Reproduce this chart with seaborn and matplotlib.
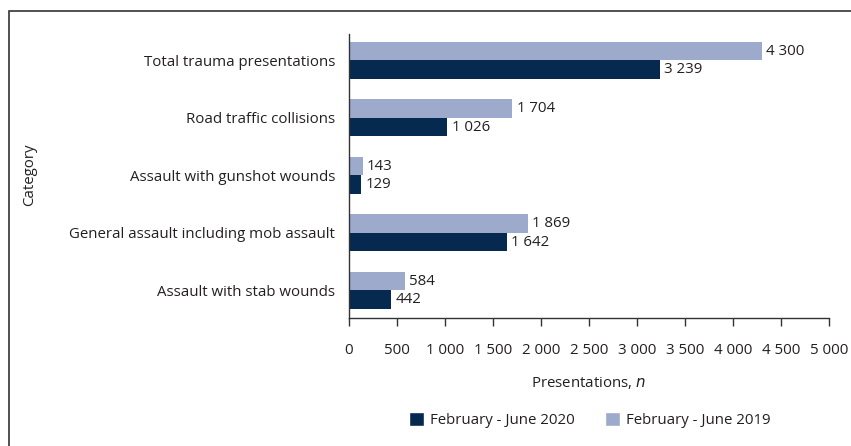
import pandas as pd
import seaborn as sns
import matplotlib.pyplot as plt
from matplotlib.patches import Patch, Rectangle
from matplotlib.ticker import FuncFormatter

categories = [
    "Total trauma presentations",
    "Road traffic collisions",
    "Assault with gunshot wounds",
    "General assault including mob assault",
    "Assault with stab wounds",
]
values_2019 = [4300, 1704, 143, 1869, 584]
values_2020 = [3239, 1026, 129, 1642, 442]
period_2019 = "February - June 2019"
period_2020 = "February - June 2020"

color_2019 = "#9DAACC"
color_2020 = "#05294F"
text_color = "#231F20"
fs = 10.8

sns.set_theme(style="white")
plt.rcParams["font.family"] = ["Open Sans", "DejaVu Sans"]
plt.rcParams["text.color"] = text_color
plt.rcParams["axes.labelcolor"] = text_color
plt.rcParams["xtick.color"] = text_color
plt.rcParams["ytick.color"] = text_color

df = pd.DataFrame({
    "Category": categories * 2,
    "Presentations": values_2019 + values_2020,
    "Period": [period_2019] * len(categories) + [period_2020] * len(categories),
})

fig = plt.figure(figsize=(8.51, 4.46), dpi=100)
ax = fig.add_axes([0.410, 0.287, 0.564, 0.637])

sns.barplot(data=df, y="Category", x="Presentations", hue="Period",
            hue_order=[period_2019, period_2020],
            palette=[color_2019, color_2020], orient="h",
            width=0.64, gap=0, saturation=1, linewidth=0,
            legend=False, ax=ax)

fmt = lambda v: f"{int(round(v)):,}".replace(",", " ")
for cont in ax.containers:
    ax.bar_label(cont, labels=[fmt(b.get_width()) for b in cont],
                 padding=3, fontsize=fs, color=text_color)

ax.set_xlim(0, 5000)
ax.set_ylim(4.48, -0.46)
ax.set_xticks(range(0, 5001, 500))
ax.xaxis.set_major_formatter(FuncFormatter(lambda v, p: fmt(v)))
ax.tick_params(axis="x", length=6, width=1, color="#333333", labelsize=fs,
               pad=12, direction="out", bottom=True)
ax.tick_params(axis="y", length=0, labelsize=fs, pad=10)
sns.despine(ax=ax, top=True, right=True)
for s in ["left", "bottom"]:
    ax.spines[s].set_color("#333333")
    ax.spines[s].set_linewidth(1)

ax.set_xlabel("Presentations, $\\it{n}$", fontsize=fs, labelpad=12)
ax.set_ylabel("")
fig.text(30 / 851, 1 - 175 / 446, "Category", rotation=90, fontsize=fs,
         ha="center", va="center", color=text_color)

handles = [Patch(facecolor=color_2020, label=period_2020),
           Patch(facecolor=color_2019, label=period_2019)]
fig.legend(handles=handles, loc="center", bbox_to_anchor=(590 / 851, 1 - 420 / 446),
           ncol=2, frameon=False, fontsize=fs, handlelength=1.0, handleheight=1.0,
           handletextpad=0.4, columnspacing=2.0)

fig.patches.append(Rectangle((9 / 851, -0.1), 1.2, 1 - 11 / 446 + 0.1,
                             transform=fig.transFigure, fill=False,
                             edgecolor="#333333", linewidth=1.2))

fig.savefig("out.png", dpi=100)
